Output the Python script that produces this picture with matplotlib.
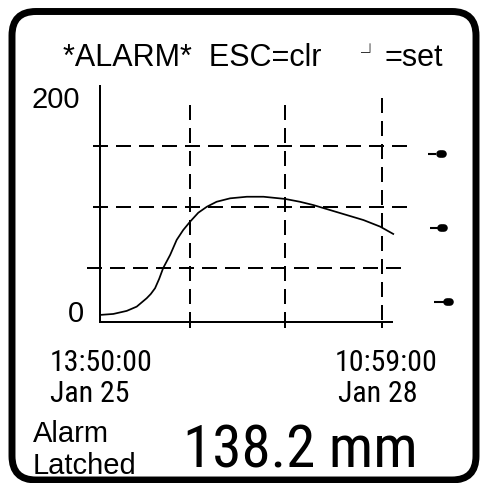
import datetime as dt
import matplotlib
matplotlib.use("Agg")
import matplotlib.pyplot as plt
from matplotlib import font_manager
from matplotlib.font_manager import FontProperties
from matplotlib.patches import FancyBboxPatch

plt.rcParams['lines.scale_dashes'] = False

# data (hours since start, level in mm)
start = dt.datetime(2024, 1, 25, 13, 50, 0)
span_hours = 69.15
hours = [0, 3.26, 6.55, 9.0, 11.45, 12.46, 13.5, 14.5, 15.5, 17.2, 18.8, 20.4,
         22.1, 24.1, 26.2, 28.6, 31.9, 36.0, 40.1, 45.4, 49.0, 52.3, 56.4,
         60.5, 64.6, 68.7, 71.9]
level = [11.5, 12.3, 14.8, 18.3, 25.2, 28.7, 33.4, 41.0, 50.0, 60.7, 73.0, 81.1,
         88.0, 95.3, 100.2, 104.3, 107.1, 108.4, 108.4, 106.6, 104.3, 101.6, 97.5,
         93.4, 89.3, 83.9, 77.9]
hgrid = [150, 100, 50]
vgrid = [22.1, 45.4, 69.15]
setpoints = [143.4, 82.8, 22.1]
reading = 138.2

regular = 'Liberation Sans'

# look for a narrow sans face for the big readout and the time labels
narrow_fp = None
for f in font_manager.fontManager.ttflist:
    cond = ('Narrow' in f.name or 'Condensed' in f.name
            or f.stretch in ('condensed', 'semi-condensed', 'extra-condensed'))
    if cond and f.style == 'normal' and f.weight in (400, 'normal', 'regular', 'book') \
            and 'Mono' not in f.name and 'Serif' not in f.name:
        if narrow_fp is None or 'Liberation' in f.name or 'Roboto' in f.name:
            narrow_fp = FontProperties(fname=f.fname)
if narrow_fp is None:
    narrow_fp = FontProperties(family='Roboto')
    nscale = 0.84
else:
    nscale = 1.0

W = 483.0
fig = plt.figure(figsize=(4.83, 4.83), dpi=100)


def fx(p):
    return p / W


def fy(p):
    return 1 - p / W


def ntext(x, y, s, size):
    fp = narrow_fp.copy()
    fp.set_size(size * nscale)
    fig.text(fx(x), fy(y), s, fontproperties=fp, va='baseline')


# rounded display frame
frame = FancyBboxPatch((fx(12), fy(480)), fx(476 - 12), fx(480 - 11.5),
                       boxstyle="round,pad=0,rounding_size=%f" % fx(24),
                       transform=fig.transFigure, fill=False, lw=5.0, ec='black')
fig.patches.append(frame)

ax = fig.add_axes([fx(100), fy(322), fx(392 - 100), fx(322 - 86)])
ax.set_xlim(0, 71.6)
ax.set_ylim(5.7, 199.2)
for s in ['top', 'right']:
    ax.spines[s].set_visible(False)
for s in ['left', 'bottom']:
    ax.spines[s].set_linewidth(1.44)
ax.set_yticks([])
ax.set_xticks(vgrid)
ax.tick_params(axis='x', direction='out', length=4.3, width=1.44, labelbottom=False)
ax.patch.set_alpha(0)

dash = (0, (10.8, 5.76))
# horizontal grid lines, they run past the plot area on the device
hx = [(-1.7, 75.3), (-1.7, 75.3), (-3.2, 73.8)]
for v, (x0, x1) in zip(hgrid, hx):
    ax.plot([x0, x1], [v, v], color='black', lw=1.44, linestyle=dash, clip_on=False)
vtop = [183.6, 183.6, 189.3]
for h, top in zip(vgrid, vtop):
    ax.plot([h, h], [top, 5.7], color='black', lw=1.44, linestyle=dash, clip_on=False)

ax.plot(hours, level, color='black', lw=1.25, clip_on=False)

# alarm setpoint markers on the right
mx = [(80.5, 82.5, 84.8), (80.8, 82.9, 85.2), (82.0, 84.3, 86.5)]
for v, (a, b, c) in zip(setpoints, mx):
    ax.plot([a, b], [v, v], color='black', lw=1.5, clip_on=False, solid_capstyle='butt')
    ax.plot([b + 0.8, c - 0.8], [v, v], color='black', lw=5.5, clip_on=False,
            solid_capstyle='round')

# header
fig.text(fx(63), fy(66), "*ALARM*  ESC=clr", fontsize=22, family=regular, va='baseline')
fig.text(fx(360), fy(59), "\u2518", fontsize=13, family=['Noto Sans CJK JP', 'DejaVu Sans'],
         va='baseline')
fig.text(fx(385), fy(66), "=set", fontsize=22, family=regular, va='baseline')

# y range labels
ax.text(-0.07, 1.0, "200", transform=ax.transAxes, fontsize=21, family=regular,
        ha='right', va='top')
ax.text(-0.055, 0.0, "0", transform=ax.transAxes, fontsize=21, family=regular,
        ha='right', va='baseline')

# time range labels
end = start + dt.timedelta(hours=span_hours)
ntext(50, 371, start.strftime("%H:%M:%S"), 21.5)
ntext(50, 402, start.strftime("%b %d"), 21.5)
ntext(335, 371, end.strftime("%H:%M:%S"), 21.5)
ntext(338, 402, end.strftime("%b %d"), 21.5)

fig.text(fx(33), fy(442), "Alarm", fontsize=21, family=regular, va='baseline')
fig.text(fx(33), fy(474), "Latched", fontsize=21, family=regular, va='baseline')
ntext(183, 467, "%.1f mm" % reading, 42.5)

fig.savefig("out.png", dpi=100)
